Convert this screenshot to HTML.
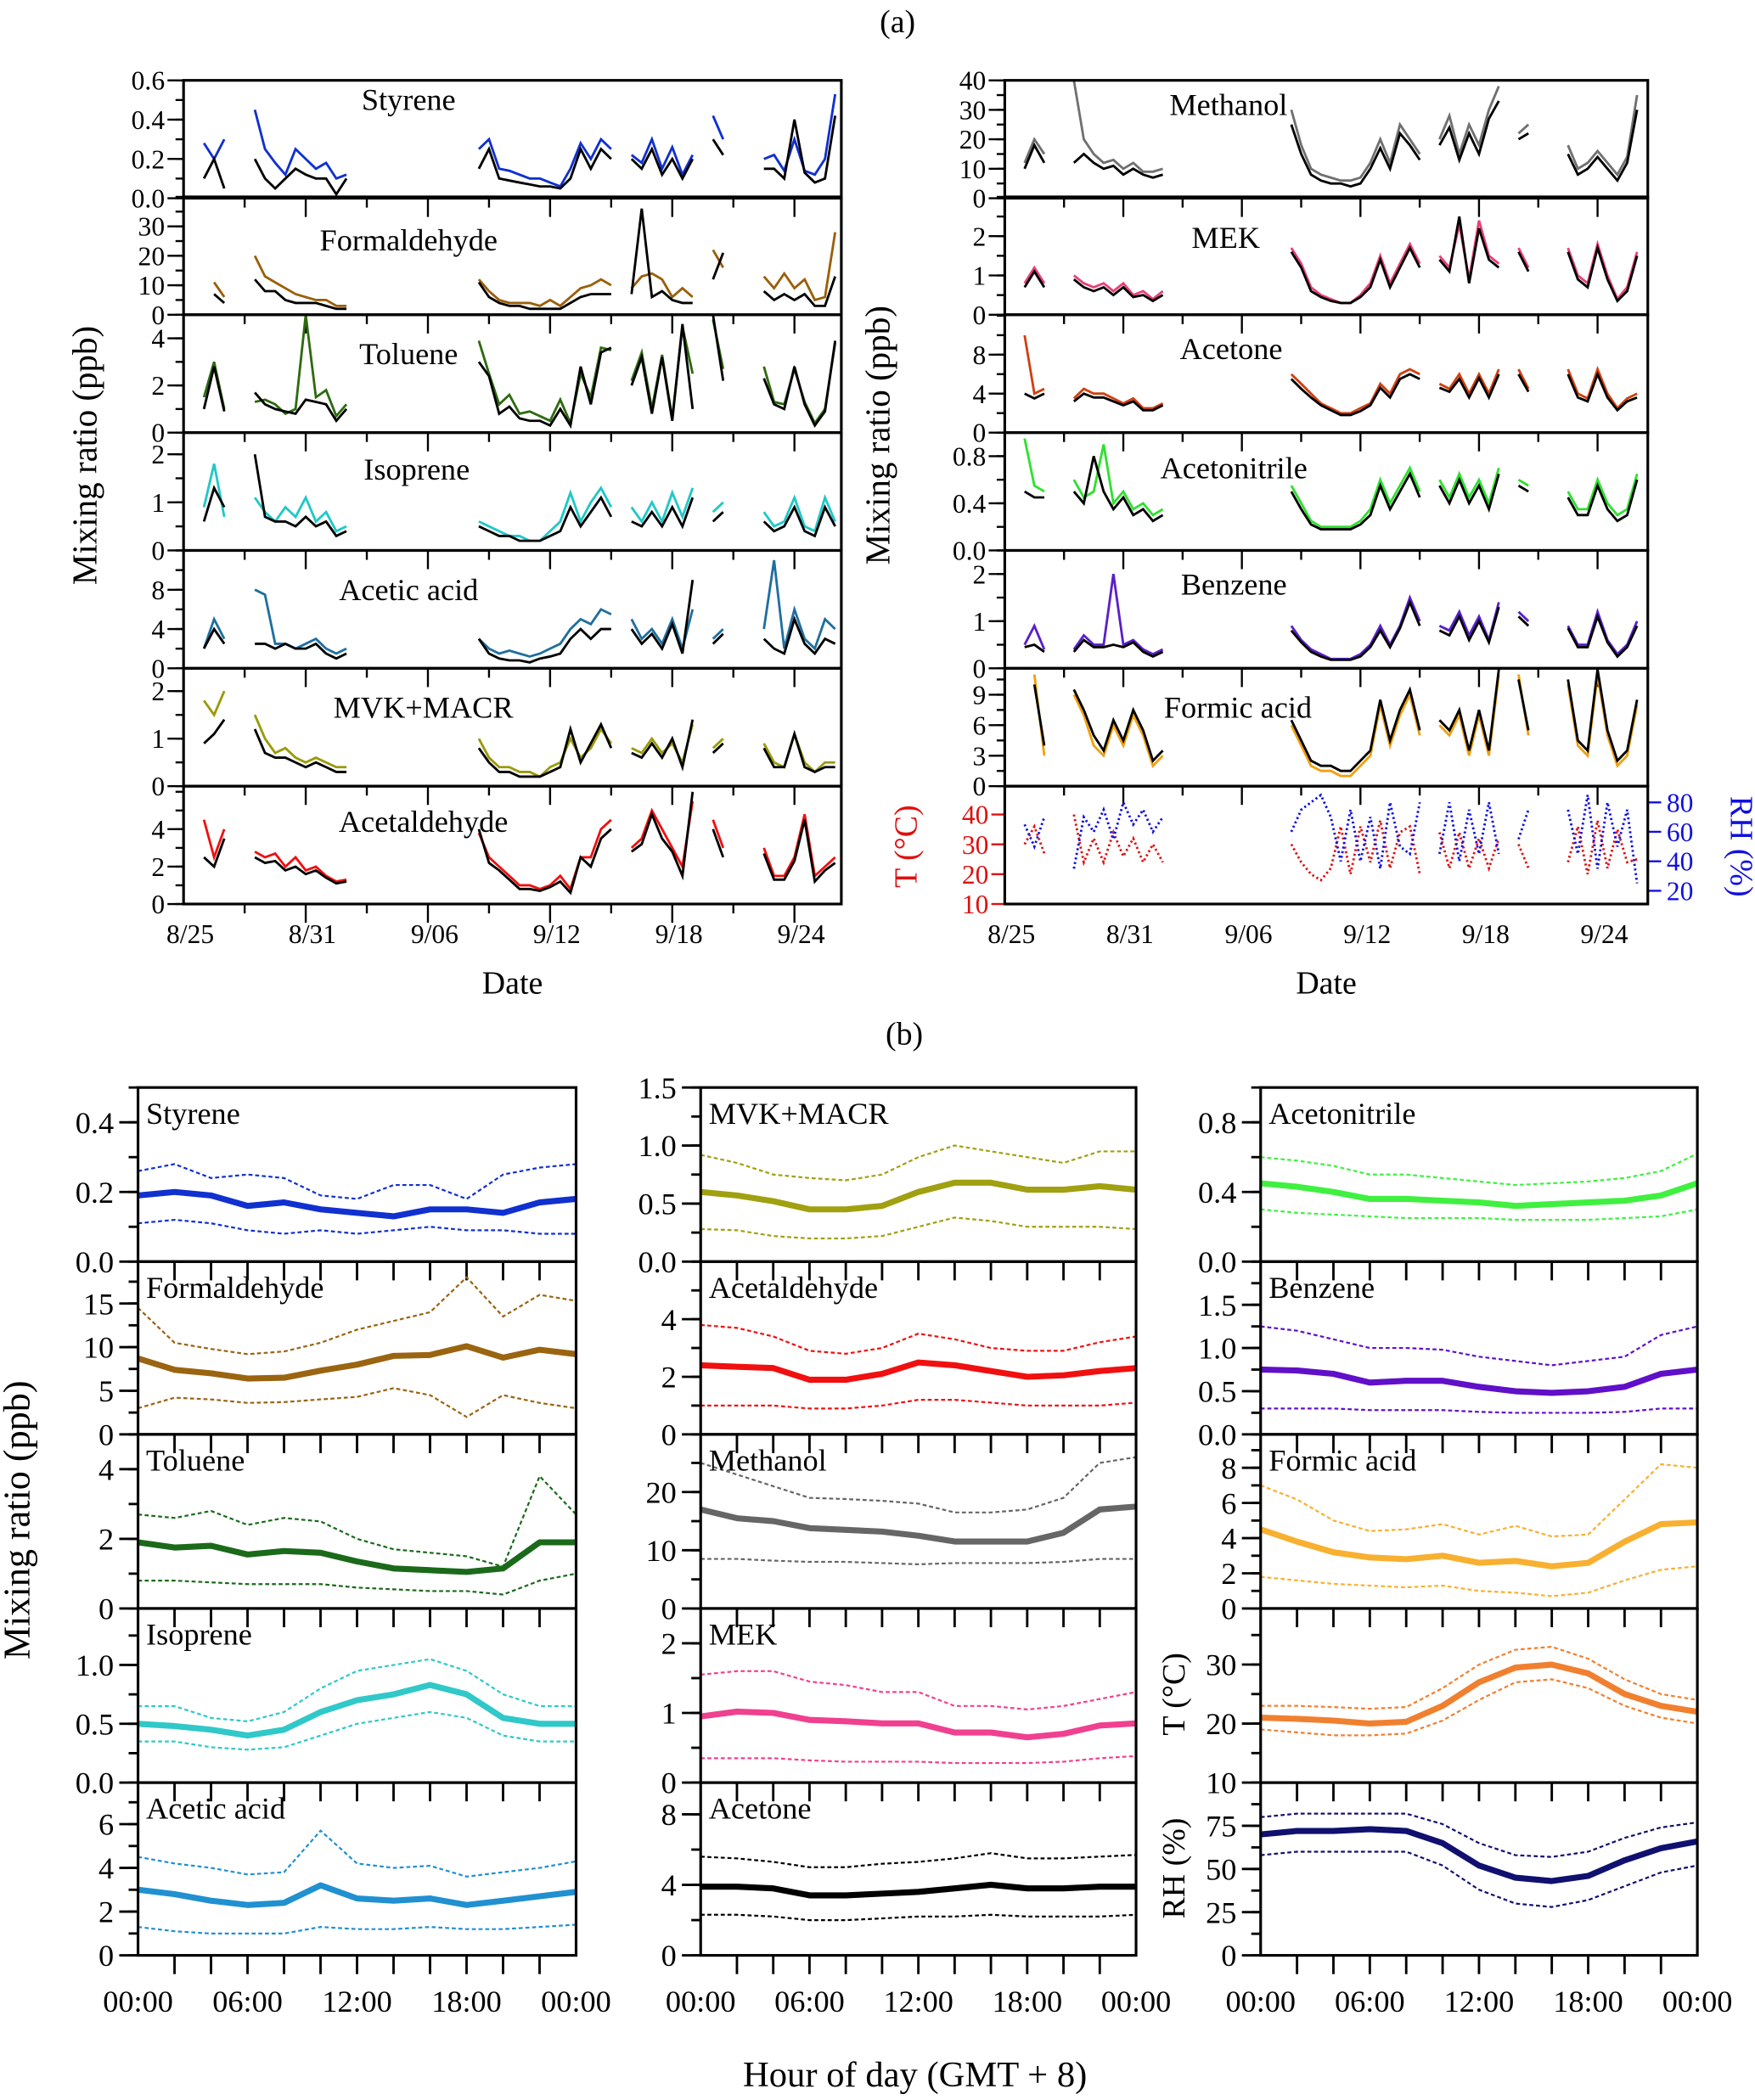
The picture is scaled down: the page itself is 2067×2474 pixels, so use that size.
<!DOCTYPE html>
<html><head><meta charset="utf-8"><style>
html,body{margin:0;padding:0;background:#fff}
svg{display:block}
text{font-family:"Liberation Serif",serif;fill:#000}
</style></head><body>
<svg id="fig" width="2067" height="2474" viewBox="0 0 1310 1568" xmlns="http://www.w3.org/2000/svg"></svg>
<script>
const N=null;
// ===== (a) time series, 0.5-day steps from 8/25 00:00 =====
const styCol=[N,N,.28,.2,.3,N,N,.45,.25,.18,.12,.25,.2,.15,.18,.1,.12,N,N,N,N,N,N,N,N,N,N,N,N,.25,.3,.15,.14,.12,.1,.1,.08,.06,.15,.28,.2,.3,.25,N,.22,.18,.3,.15,.26,.12,.22,N,.42,.3,N,N,N,.2,.22,.14,.3,.14,.12,.2,.53];
const styBlk=[N,N,.1,.2,.05,N,N,.2,.1,.05,.1,.15,.12,.1,.1,.02,.1,N,N,N,N,N,N,N,N,N,N,N,N,.15,.25,.1,.09,.08,.07,.06,.06,.05,.1,.25,.15,.25,.2,N,.2,.15,.25,.12,.2,.1,.2,N,.3,.22,N,N,N,.15,.15,.1,.4,.13,.08,.1,.42];
const hchoCol=[N,N,N,11,6,N,N,20,13,11,9,7,6,5,5,3,3,N,N,N,N,N,N,N,N,N,N,N,N,12,8,5,4,4,4,3,5,3,6,9,10,12,10,N,9,13,14,12,6,9,6,N,22,16,N,N,N,13,9,14,9,12,5,6,28];
const hchoBlk=[N,N,N,7,4,N,N,12,8,8,5,4,4,4,3,2,2,N,N,N,N,N,N,N,N,N,N,N,N,11,6,4,3,3,2,2,2,2,4,6,7,7,7,N,7,36,6,8,5,4,4,N,12,21,N,N,N,8,5,7,5,7,3,3,13];
const tolCol=[N,N,1.5,3,1,N,N,1.3,1.4,1.2,.8,1,5,1.5,1.8,.7,1.2,N,N,N,N,N,N,N,N,N,N,N,N,3.9,2.5,1.2,1.6,.8,.9,.7,.5,1.4,.4,2.5,1.5,3.6,3.5,N,2.2,3.4,1,3.3,.6,4.5,2.5,N,4.8,2.7,N,N,N,2.8,1.3,1.2,2.7,1.3,.4,1,3.8];
const tolBlk=[N,N,1,2.8,.9,N,N,1.7,1.2,1,.9,.8,1.4,1.3,1.2,.5,1,N,N,N,N,N,N,N,N,N,N,N,N,3,2.4,.8,1.1,.6,.5,.5,.3,1,.3,2.8,1.2,3.4,3.6,N,2,3.2,.8,3.2,.5,4.6,1,N,5,2.2,N,N,N,2.3,1.2,1,2.8,1.2,.3,.9,3.9];
const isoCol=[N,N,.9,1.8,.7,N,N,1.1,.8,.6,.9,.7,1.1,.6,.8,.4,.5,N,N,N,N,N,N,N,N,N,N,N,N,.6,.5,.4,.3,.3,.2,.2,.4,.6,1.2,.6,1,1.3,.9,N,.9,.6,1,.6,1.2,.7,1.3,N,.8,1,N,N,N,.8,.5,.6,1.1,.5,.4,1.1,.6];
const isoBlk=[N,N,.6,1.3,.9,N,N,2,.7,.6,.6,.5,.7,.5,.6,.3,.4,N,N,N,N,N,N,N,N,N,N,N,N,.5,.4,.3,.3,.2,.2,.2,.3,.4,.9,.5,.8,1.1,.7,N,.6,.5,.8,.5,.9,.5,1.1,N,.6,.8,N,N,N,.6,.4,.5,.9,.4,.3,.9,.5];
const aceCol=[N,N,2,5,3,N,N,8,7.5,2.5,2.5,2,2.5,3,2,1.5,2,N,N,N,N,N,N,N,N,N,N,N,N,3,2,1.5,1.8,1.5,1.2,1.5,2,2.5,4,5,4.5,6,5.5,N,5,3,4,2.5,5,2,6,N,3,4,N,N,N,4,11,2,6,3,2,5,4];
const aceBlk=[N,N,2,4,2.5,N,N,2.5,2.5,2,2.5,2,2,2.5,1.5,1,1.5,N,N,N,N,N,N,N,N,N,N,N,N,3,1.5,1,.8,.8,.6,1,1.2,1.5,3,4,3,4,4,N,4,2.5,3.5,2,4.5,1.5,9,N,2.5,3.5,N,N,N,3,2,1.5,5,2.5,1.5,3,2.5];
const mvkCol=[N,N,1.8,1.5,2,N,N,1.5,1,.7,.8,.6,.5,.6,.5,.4,.4,N,N,N,N,N,N,N,N,N,N,N,N,1,.6,.4,.4,.3,.3,.2,.4,.5,1,.6,.8,1.2,.9,N,.8,.7,1,.7,.9,.5,1.3,N,.8,1,N,N,N,.9,.5,.4,1.1,.5,.3,.5,.5];
const mvkBlk=[N,N,.9,1.1,1.4,N,N,1.2,.7,.6,.6,.5,.4,.5,.4,.3,.3,N,N,N,N,N,N,N,N,N,N,N,N,.8,.5,.3,.3,.2,.2,.2,.3,.4,1.2,.5,.9,1.3,.8,N,.7,.6,.9,.6,1,.4,1.4,N,.7,.9,N,N,N,.8,.4,.4,1.1,.4,.3,.4,.4];
const acdCol=[N,N,4.5,2.5,4,N,N,2.8,2.5,2.7,2,2.5,1.8,2,1.5,1.2,1.3,N,N,N,N,N,N,N,N,N,N,N,N,3.8,2.5,2,1.5,1,1,.8,1,1.5,.8,2.5,2.5,4,4.5,N,3,3.5,5,4,3,2,5.5,N,4.5,3,N,N,N,3,1.5,1.5,2.5,4.8,1.5,2,2.5];
const acdBlk=[N,N,2.5,2,3.5,N,N,2.5,2.2,2.3,1.8,2,1.6,1.8,1.4,1.1,1.2,N,N,N,N,N,N,N,N,N,N,N,N,4,2.2,1.8,1.3,.8,.8,.7,.9,1.2,.6,2.5,2,3.5,4,N,2.8,3.2,4.8,3.5,2.8,1.5,6,N,4,2.5,N,N,N,2.7,1.3,1.3,2.3,4.5,1.2,1.8,2.2];
const mthCol=[N,N,12,20,15,N,N,40,20,15,12,13,10,12,9,9,10,N,N,N,N,N,N,N,N,N,N,N,N,30,18,10,8,7,6,6,7,12,20,12,25,20,15,N,20,28,15,25,18,30,38,N,22,25,N,N,N,18,10,12,16,12,8,14,35];
const mthBlk=[N,N,10,18,12,N,N,12,15,12,10,11,8,10,8,7,8,N,N,N,N,N,N,N,N,N,N,N,N,25,15,8,6,5,5,4,5,10,17,10,22,18,13,N,18,24,13,22,15,27,33,N,20,22,N,N,N,15,8,10,14,10,6,12,30];
const mekCol=[N,N,.8,1.2,.8,N,N,1,.8,.7,.8,.6,.8,.5,.6,.4,.6,N,N,N,N,N,N,N,N,N,N,N,N,1.7,1.3,.7,.5,.4,.3,.3,.5,.8,1.5,.8,1.3,1.8,1.3,N,1.5,1.2,2.3,.9,2.4,1.5,1.3,N,1.7,1.2,N,N,N,1.7,1,.8,1.8,1,.4,.7,1.6];
const mekBlk=[N,N,.7,1.1,.7,N,N,.9,.7,.6,.7,.5,.7,.45,.5,.35,.5,N,N,N,N,N,N,N,N,N,N,N,N,1.6,1.2,.6,.45,.35,.3,.3,.45,.7,1.4,.7,1.2,1.7,1.2,N,1.4,1.1,2.5,.8,2.2,1.4,1.2,N,1.6,1.1,N,N,N,1.6,.9,.7,1.7,.9,.35,.6,1.5];
const actCol=[N,N,10,4,4.5,N,N,3.5,4.5,4,4,3.5,3,3.5,2.5,2.5,3,N,N,N,N,N,N,N,N,N,N,N,N,6,5,4,3,2.5,2,2,2.5,3,5,4,6,6.5,6,N,5,4.5,6,4,6,4,6.5,N,6.5,4.5,N,N,N,6.5,4,3.5,6.5,4,2.5,3.5,4];
const actBlk=[N,N,4,3.5,4,N,N,3.2,4,3.6,3.6,3.2,2.8,3.2,2.3,2.3,2.8,N,N,N,N,N,N,N,N,N,N,N,N,5.5,4.5,3.6,2.8,2.3,1.8,1.8,2.2,2.8,4.6,3.6,5.5,6,5.5,N,4.6,4.2,5.5,3.6,5.6,3.6,6,N,6,4.2,N,N,N,6,3.6,3.2,6,3.6,2.3,3.2,3.6];
const acnCol=[N,N,.95,.55,.5,N,N,.6,.45,.5,.9,.4,.5,.35,.4,.3,.35,N,N,N,N,N,N,N,N,N,N,N,N,.55,.4,.25,.2,.2,.2,.2,.25,.35,.6,.4,.55,.7,.5,N,.6,.45,.65,.45,.6,.4,.7,N,.6,.55,N,N,N,.5,.35,.35,.6,.4,.3,.35,.65];
const acnBlk=[N,N,.5,.45,.45,N,N,.5,.4,.8,.5,.35,.45,.3,.35,.25,.3,N,N,N,N,N,N,N,N,N,N,N,N,.5,.35,.22,.18,.18,.18,.18,.22,.3,.55,.35,.5,.65,.45,N,.55,.4,.6,.4,.55,.35,.65,N,.55,.5,N,N,N,.45,.3,.3,.55,.35,.25,.3,.6];
const bzCol=[N,N,.5,.9,.4,N,N,.4,.7,.5,.5,2,.5,.6,.4,.3,.4,N,N,N,N,N,N,N,N,N,N,N,N,.9,.6,.4,.3,.2,.2,.2,.3,.5,.9,.5,.9,1.5,1,N,.9,.8,1.2,.7,1.1,.6,1.4,N,1.2,1,N,N,N,.9,.5,.5,1.2,.6,.3,.5,1];
const bzBlk=[N,N,.45,.5,.35,N,N,.35,.6,.45,.45,.5,.45,.55,.35,.25,.35,N,N,N,N,N,N,N,N,N,N,N,N,.8,.55,.35,.25,.18,.18,.18,.25,.45,.8,.45,.85,1.4,.9,N,.8,.7,1.1,.6,1,.55,1.3,N,1.1,.9,N,N,N,.85,.45,.45,1.1,.55,.25,.45,.9];
const fmCol=[N,N,N,11,3,N,N,9,7,4,3,6,4,7,5,2,3,N,N,N,N,N,N,N,N,N,N,N,N,6,4,2,1.5,1.5,1,1,2,3,8,4,7,9,5,N,6,5,7,3,7,3,11,N,11,5,N,N,N,10,4,3,11,5,2,3,8];
const fmBlk=[N,N,N,10,4,N,N,9.5,7.5,5,3.5,6.5,4.5,7.5,5.5,2.5,3.5,N,N,N,N,N,N,N,N,N,N,N,N,6.5,4.5,2.5,2,2,1.5,1.5,2.5,3.5,8.5,4.5,7.5,9.5,5.5,N,6.5,5.5,7.5,3.5,7.5,3.5,11.5,N,10.5,5.5,N,N,N,10.5,4.5,3.5,11.5,5.5,2.5,3.5,8.5];
const tempA=[N,N,30,36,27,N,N,40,24,32,24,34,26,32,24,30,24,N,N,N,N,N,N,N,N,N,N,N,N,30,24,20,18,22,36,20,36,24,38,22,34,36,20,N,34,22,34,22,32,22,32,N,30,22,N,N,N,24,36,20,38,22,35,24,25];
const rhA=[N,N,65,50,70,N,N,35,70,60,75,55,80,65,75,60,70,N,N,N,N,N,N,N,N,N,N,N,N,60,75,80,85,70,40,75,40,70,35,80,50,45,80,N,45,80,40,75,45,80,45,N,55,75,N,N,N,75,45,85,35,80,50,75,25];
const dateLabels=["8/25","8/31","9/06","9/12","9/18","9/24"];
const dateTickDays=[0,6,12,18,24,30];
// ===== (b) diurnal, 2-hour steps =====
const hours=[0,2,4,6,8,10,12,14,16,18,20,22,24];
const hourLabels=["00:00","06:00","12:00","18:00","00:00"];
const bStyMed=[.19,.2,.19,.16,.17,.15,.14,.13,.15,.15,.14,.17,.18],bStyLo=[.11,.12,.11,.09,.08,.09,.08,.09,.1,.09,.09,.08,.08],bStyHi=[.26,.28,.24,.25,.24,.19,.18,.22,.22,.18,.25,.27,.28];
const bHchoMed=[8.7,7.4,7,6.4,6.5,7.3,8,9,9.1,10.1,8.8,9.7,9.2],bHchoLo=[3,4.2,4,3.6,3.7,4,4.3,5.3,4.5,2,4.5,3.6,3],bHchoHi=[14.5,10.5,9.8,9.2,9.5,10.5,12,13,14,18,13.5,16,15.3];
const bTolMed=[1.9,1.75,1.8,1.55,1.65,1.6,1.35,1.15,1.1,1.05,1.15,1.9,1.9],bTolLo=[.8,.8,.75,.7,.7,.7,.6,.55,.5,.5,.4,.8,1],bTolHi=[2.7,2.6,2.8,2.4,2.6,2.5,2,1.7,1.6,1.5,1.2,3.8,2.7];
const bIsoMed=[.5,.48,.45,.4,.45,.6,.7,.75,.83,.75,.55,.5,.5],bIsoLo=[.35,.35,.3,.28,.3,.4,.5,.55,.6,.55,.4,.35,.35],bIsoHi=[.65,.65,.55,.52,.6,.8,.95,1,1.05,.95,.75,.65,.65];
const bAceMed=[3,2.8,2.5,2.3,2.4,3.2,2.6,2.5,2.6,2.3,2.5,2.7,2.9],bAceLo=[1.3,1.1,1,1,1,1.3,1.2,1.2,1.3,1.2,1.2,1.3,1.4],bAceHi=[4.5,4.2,4,3.7,3.8,5.7,4.2,4,4.1,3.6,3.8,4,4.3];
const bMvkMed=[.6,.57,.52,.45,.45,.48,.6,.68,.68,.62,.62,.65,.62],bMvkLo=[.28,.27,.22,.2,.2,.22,.3,.38,.35,.3,.3,.3,.28],bMvkHi=[.92,.85,.75,.72,.7,.75,.9,1,.95,.9,.85,.95,.95];
const bAcdMed=[2.4,2.35,2.3,1.9,1.9,2.1,2.5,2.4,2.2,2,2.05,2.2,2.3],bAcdLo=[1,1,1,.9,.9,1,1.2,1.2,1.1,1,1,1,1.1],bAcdHi=[3.8,3.7,3.4,2.9,2.8,3,3.5,3.3,3,2.9,2.9,3.2,3.4];
const bMthMed=[17,15.5,15,13.8,13.5,13.2,12.5,11.5,11.5,11.5,13,17,17.5],bMthLo=[8.5,8.5,8.2,8,8,7.8,7.6,7.8,7.8,7.8,8,8.5,8.5],bMthHi=[25,23,21,19,18.8,18.5,18,16.5,16.5,17,19,25,26];
const bMekMed=[.95,1.02,1,.9,.88,.85,.85,.72,.72,.65,.7,.82,.85],bMekLo=[.35,.35,.35,.32,.3,.3,.3,.28,.28,.28,.3,.35,.38],bMekHi=[1.55,1.6,1.6,1.45,1.4,1.3,1.3,1.1,1.1,1.05,1.1,1.2,1.3];
const bActMed=[3.9,3.9,3.8,3.4,3.4,3.5,3.6,3.8,4,3.8,3.8,3.9,3.9],bActLo=[2.3,2.3,2.2,2,2,2.1,2.2,2.2,2.3,2.2,2.2,2.2,2.3],bActHi=[5.6,5.5,5.3,5,5,5.2,5.3,5.5,5.8,5.5,5.5,5.6,5.7];
const bAcnMed=[.45,.43,.4,.36,.36,.35,.34,.32,.33,.34,.35,.38,.45],bAcnLo=[.3,.28,.27,.26,.25,.25,.25,.24,.24,.24,.25,.26,.3],bAcnHi=[.6,.58,.55,.5,.5,.48,.46,.44,.45,.46,.48,.52,.62];
const bBzMed=[.75,.74,.7,.6,.62,.62,.55,.5,.48,.5,.55,.7,.75],bBzLo=[.3,.3,.3,.28,.28,.28,.26,.25,.25,.25,.26,.3,.3],bBzHi=[1.25,1.2,1.1,1,1,.98,.9,.85,.8,.85,.9,1.15,1.25];
const bFmMed=[4.5,3.8,3.2,2.9,2.8,3,2.6,2.7,2.4,2.6,3.8,4.8,4.9],bFmLo=[1.8,1.6,1.4,1.3,1.2,1.3,1,.9,.7,.9,1.6,2.2,2.4],bFmHi=[7,6.2,5,4.4,4.5,4.8,4.2,4.7,4.1,4.2,6.2,8.2,8];
const bTMed=[21,20.8,20.5,20,20.3,23,27,29.5,30,28.5,25,23,22],bTLo=[19,18.5,18,18,18.3,20.5,24,27,27.5,26,23,21,20],bTHi=[23,23,22.8,22.5,22.8,26,30,32.5,33,31,27.5,25,24];
const bRhMed=[70,72,72,73,72,65,52,45,43,46,55,62,66],bRhLo=[58,60,60,60,60,52,38,30,28,32,40,48,52],bRhHi=[80,82,82,82,82,76,65,58,57,60,68,74,77];

const NS="http://www.w3.org/2000/svg";
const svg=document.getElementById('fig');
function el(tag,attrs,parent,txt){const e=document.createElementNS(NS,tag);for(const k in attrs)e.setAttribute(k,attrs[k]);if(txt!==undefined)e.textContent=txt;(parent||svg).appendChild(e);return e;}
function txt(x,y,s,size,opts,parent){opts=opts||{};const t=el('text',Object.assign({x:x,y:y,'font-size':size,'text-anchor':opts.anchor||'middle'},opts.extra||{}),parent,s);if(opts.fill)t.setAttribute('style','fill:'+opts.fill);return t;}
function pathFrom(xs,ys){let d='',pen=false;for(let i=0;i<xs.length;i++){if(ys[i]===null||ys[i]===undefined){pen=false;continue;}d+=(pen?'L':'M')+xs[i].toFixed(1)+' '+ys[i].toFixed(1)+' ';pen=true;}return d;}

const ta=txt(670,24,"(a)",24);
const tb=txt(675,780,"(b)",24);

const rowTop=[60,147,235,323,411,499,587],rowH=88;
const leftA={x0:137,x1:628,ppd:15.2};
const rightA={x0:750,x1:1230,ppd:14.75};
const leftPanels=[
 {name:"Styrene",max:.6,ticks:[0,.2,.4,.6],fmt:1,minor:.1,col:"#1030d0",c:styCol,b:styBlk,lx:305,ly:82},
 {name:"Formaldehyde",max:40,ticks:[0,10,20,30],fmt:0,minor:5,col:"#9a5f0a",c:hchoCol,b:hchoBlk,lx:305,ly:187},
 {name:"Toluene",max:5,ticks:[0,2,4],fmt:0,minor:1,col:"#2e6b10",c:tolCol,b:tolBlk,lx:305,ly:272},
 {name:"Isoprene",max:2.45,ticks:[0,1,2],fmt:0,minor:.5,col:"#20c8c8",c:isoCol,b:isoBlk,lx:311,ly:358},
 {name:"Acetic acid",max:12,ticks:[0,4,8],fmt:0,minor:2,col:"#1f6fa0",c:aceCol,b:aceBlk,lx:305,ly:448},
 {name:"MVK+MACR",max:2.48,ticks:[0,1,2],fmt:0,minor:.5,col:"#9a9a0a",c:mvkCol,b:mvkBlk,lx:316,ly:536},
 {name:"Acetaldehyde",max:6.3,ticks:[0,2,4],fmt:0,minor:1,col:"#f01010",c:acdCol,b:acdBlk,lx:316,ly:621}];
const rightPanels=[
 {name:"Methanol",max:40,ticks:[0,10,20,30,40],fmt:0,minor:5,col:"#707070",c:mthCol,b:mthBlk,lx:917,ly:86},
 {name:"MEK",max:3,ticks:[0,1,2],fmt:0,minor:.5,col:"#e8407a",c:mekCol,b:mekBlk,lx:915,ly:185},
 {name:"Acetone",max:12.1,ticks:[0,4,8],fmt:0,minor:2,col:"#d04010",c:actCol,b:actBlk,lx:919,ly:268},
 {name:"Acetonitrile",max:1,ticks:[0,.4,.8],fmt:1,minor:.2,col:"#30e030",c:acnCol,b:acnBlk,lx:921,ly:357},
 {name:"Benzene",max:2.5,ticks:[0,1,2],fmt:0,minor:.5,col:"#5a20c8",c:bzCol,b:bzBlk,lx:921,ly:444},
 {name:"Formic acid",max:11.6,ticks:[0,3,6,9],fmt:0,minor:1.5,col:"#f0a010",c:fmCol,b:fmBlk,lx:924,ly:536}];

function drawA(ax,panels,side){
  const g=el('g',{});
  
  
  const X=d=>ax.x0+d*ax.ppd;
  const xsIdx=[];for(let i=0;i<65;i++)xsIdx.push(X(i*0.5));
  panels.forEach((p,k)=>{
    const top=rowTop[k],bot=top+rowH;
    const Y=v=>v===null?null:bot-v/p.max*rowH;
    const pg=el('g',{},g);
    
    
    const pc=el('path',{d:pathFrom(xsIdx,p.c.map(Y)),fill:'none',stroke:p.col,'stroke-width':1.8},pg);
    
    const pb=el('path',{d:pathFrom(xsIdx,p.b.map(Y)),fill:'none',stroke:'#000','stroke-width':1.8},pg);
    
    for(let v=0;v<=p.max+1e-9;v+=p.minor){const y=Y(v);el('line',{x1:ax.x0-6,x2:ax.x0,y1:y,y2:y,stroke:'#000','stroke-width':1.5},pg);}
    p.ticks.forEach(v=>{const y=Y(v);el('line',{x1:ax.x0-12,x2:ax.x0,y1:y,y2:y,stroke:'#000','stroke-width':1.5},pg);
      const t=txt(ax.x0-14,y+7,v.toFixed(p.fmt),20,{anchor:'end'},pg);});
    for(let d=3;d<=ax.x1;d+=3){const x=X(d);if(x>ax.x1-1)break;const L=(d%6===0)?14:7;el('line',{x1:x,x2:x,y1:bot,y2:bot+L,stroke:'#000','stroke-width':1.5},pg);}
    el('rect',{x:ax.x0,y:top,width:ax.x1-ax.x0,height:rowH,fill:'none',stroke:'#000','stroke-width':2},pg);
    const nl=txt(p.lx,p.ly,p.name,23,{},pg);
  });
  return {g,X};
}
const LA=drawA(leftA,leftPanels,'left');
const RA=drawA(rightA,rightPanels,'right');

(function(){
  const top=587,bot=675,ax=rightA;
  const X=d=>ax.x0+d*ax.ppd;
  const xsIdx=[];for(let i=0;i<65;i++)xsIdx.push(X(i*0.5));
  const YT=v=>v===null?null:bot-(v-10)/(49.5-10)*rowH;
  const YR=v=>v===null?null:bot-(v-11)/(91-11)*rowH;
  const g=el('g',{});
  
  
  const pt=el('path',{d:pathFrom(xsIdx,tempA.map(YT)),fill:'none',stroke:'#e01010','stroke-width':1.8,'stroke-dasharray':'1.5 2'},g);
  
  const pr=el('path',{d:pathFrom(xsIdx,rhA.map(YR)),fill:'none',stroke:'#1010e0','stroke-width':1.8,'stroke-dasharray':'1.5 2'},g);
  
  [10,20,30,40].forEach(v=>{const y=YT(v);el('line',{x1:ax.x0-10,x2:ax.x0,y1:y,y2:y,stroke:'#e01010','stroke-width':1.5},g);
    const t=txt(ax.x0-12,y+7,String(v),20,{anchor:'end',fill:'#e01010'},g);});
  [20,40,60,80].forEach(v=>{const y=YR(v);el('line',{x1:ax.x1,x2:ax.x1+10,y1:y,y2:y,stroke:'#1010e0','stroke-width':1.5},g);
    const t=txt(ax.x1+14,y+7,String(v),20,{anchor:'start',fill:'#1010e0'},g);});
  el('rect',{x:ax.x0,y:top,width:ax.x1-ax.x0,height:rowH,fill:'none',stroke:'#000','stroke-width':2},g);
  const t1=txt(0,0,"T (°C)",24,{fill:'#e01010',extra:{transform:'translate(684,632) rotate(-90)'}},g);
  const t2=txt(0,0,"RH (%)",24,{fill:'#1010e0',extra:{transform:'translate(1292,632) rotate(90)'}},g);
})();

[[LA,leftA,'left'],[RA,rightA,'right']].forEach(([A,ax,s])=>{
  dateTickDays.forEach((d,i)=>{const t=txt(A.X(d)+5,704,dateLabels[i],20);});
  const t=txt((ax.x0+ax.x1)/2,742,"Date",24);
});
let yt=txt(0,0,"Mixing ratio (ppb)",26,{extra:{transform:'translate(72,340) rotate(-90)'}});
yt=txt(0,0,"Mixing ratio (ppb)",26,{extra:{transform:'translate(664,325) rotate(-90)'}});

const bCols=[{x0:103,x1:430},{x0:523,x1:848},{x0:941,x1:1267}];
const bRows=[812,942,1071,1201,1331,1460];
const bPanels=[
 [{n:"Styrene",min:0,max:.5,ticks:[0,.2,.4],fmt:1,minor:.1,col:"#1030d0",m:bStyMed,lo:bStyLo,hi:bStyHi},
  {n:"Formaldehyde",min:0,max:19.8,ticks:[0,5,10,15],fmt:0,minor:2.5,col:"#9a6410",m:bHchoMed,lo:bHchoLo,hi:bHchoHi},
  {n:"Toluene",min:0,max:5,ticks:[0,2,4],fmt:0,minor:1,col:"#1a6a1a",m:bTolMed,lo:bTolLo,hi:bTolHi},
  {n:"Isoprene",min:0,max:1.48,ticks:[0,.5,1],fmt:1,minor:.25,col:"#30c8c8",m:bIsoMed,lo:bIsoLo,hi:bIsoHi},
  {n:"Acetic acid",min:0,max:7.9,ticks:[0,2,4,6],fmt:0,minor:1,col:"#2090d0",m:bAceMed,lo:bAceLo,hi:bAceHi}],
 [{n:"MVK+MACR",min:0,max:1.5,ticks:[0,.5,1,1.5],fmt:1,minor:.25,col:"#a0a010",m:bMvkMed,lo:bMvkLo,hi:bMvkHi},
  {n:"Acetaldehyde",min:0,max:6,ticks:[0,2,4],fmt:0,minor:1,col:"#f01010",m:bAcdMed,lo:bAcdLo,hi:bAcdHi},
  {n:"Methanol",min:0,max:29.9,ticks:[0,10,20],fmt:0,minor:5,col:"#666666",m:bMthMed,lo:bMthLo,hi:bMthHi},
  {n:"MEK",min:0,max:2.5,ticks:[0,1,2],fmt:0,minor:.5,col:"#f04090",m:bMekMed,lo:bMekLo,hi:bMekHi},
  {n:"Acetone",min:0,max:9.8,ticks:[0,4,8],fmt:0,minor:2,col:"#000000",m:bActMed,lo:bActLo,hi:bActHi}],
 [{n:"Acetonitrile",min:0,max:1,ticks:[0,.4,.8],fmt:1,minor:.2,col:"#40f040",m:bAcnMed,lo:bAcnLo,hi:bAcnHi},
  {n:"Benzene",min:0,max:2,ticks:[0,.5,1,1.5],fmt:1,minor:.25,col:"#6010c8",m:bBzMed,lo:bBzLo,hi:bBzHi},
  {n:"Formic acid",min:0,max:9.9,ticks:[0,2,4,6,8],fmt:0,minor:1,col:"#f8b030",m:bFmMed,lo:bFmLo,hi:bFmHi},
  {n:"",min:10,max:39.5,ticks:[10,20,30],fmt:0,minor:5,col:"#f08030",m:bTMed,lo:bTLo,hi:bTHi},
  {n:"",min:0,max:100,ticks:[0,25,50,75],fmt:0,minor:12.5,col:"#101070",m:bRhMed,lo:bRhLo,hi:bRhHi}]];

bPanels.forEach((col,ci)=>{
  const c=bCols[ci];
  const X=h=>c.x0+h/24*(c.x1-c.x0);
  const g=el('g',{});
  
  
  col.forEach((p,ri)=>{
    const top=bRows[ri],bot=bRows[ri+1],H=bot-top;
    const Y=v=>bot-(v-p.min)/(p.max-p.min)*H;
    const pg=el('g',{},g);
    
    
    const xs=hours.map(X);
    const l1=el('path',{d:pathFrom(xs,p.lo.map(Y)),fill:'none',stroke:p.col,'stroke-width':1.4,'stroke-dasharray':'3 2'},pg);
    
    const l2=el('path',{d:pathFrom(xs,p.hi.map(Y)),fill:'none',stroke:p.col,'stroke-width':1.4,'stroke-dasharray':'3 2'},pg);
    
    const l3=el('path',{d:pathFrom(xs,p.m.map(Y)),fill:'none',stroke:p.col,'stroke-width':4.5,'stroke-linejoin':'round'},pg);
    
    for(let v=p.min;v<=p.max+1e-9;v+=p.minor){const y=Y(v);el('line',{x1:c.x0-7,x2:c.x0,y1:y,y2:y,stroke:'#000','stroke-width':1.8},pg);}
    p.ticks.forEach(v=>{const y=Y(v);el('line',{x1:c.x0-14,x2:c.x0,y1:y,y2:y,stroke:'#000','stroke-width':1.8},pg);
      const t=txt(c.x0-18,y+8,v.toFixed(p.fmt),23,{anchor:'end'},pg);});
    for(let h=2;h<24;h+=2){const x=X(h);el('line',{x1:x,x2:x,y1:bot,y2:bot+14,stroke:'#000','stroke-width':1.8},pg);}
    el('rect',{x:c.x0,y:top,width:c.x1-c.x0,height:H,fill:'none',stroke:'#000','stroke-width':2},pg);
    if(p.n){const t=txt(c.x0+6,top+27,p.n,23,{anchor:'start'},pg);}
  });
  [0,6,12,18,24].forEach((h,i)=>{const t=txt(X(h),1502,hourLabels[i],23,{},g);});
});
let bt=txt(683,1558,"Hour of day (GMT + 8)",27);
bt=txt(0,0,"Mixing ratio (ppb)",28,{extra:{transform:'translate(22,1135) rotate(-90)'}});
bt=txt(0,0,"T (°C)",24,{extra:{transform:'translate(884,1265) rotate(-90)'}});
bt=txt(0,0,"RH (%)",24,{extra:{transform:'translate(884,1395) rotate(-90)'}});
</script>
</body></html>
